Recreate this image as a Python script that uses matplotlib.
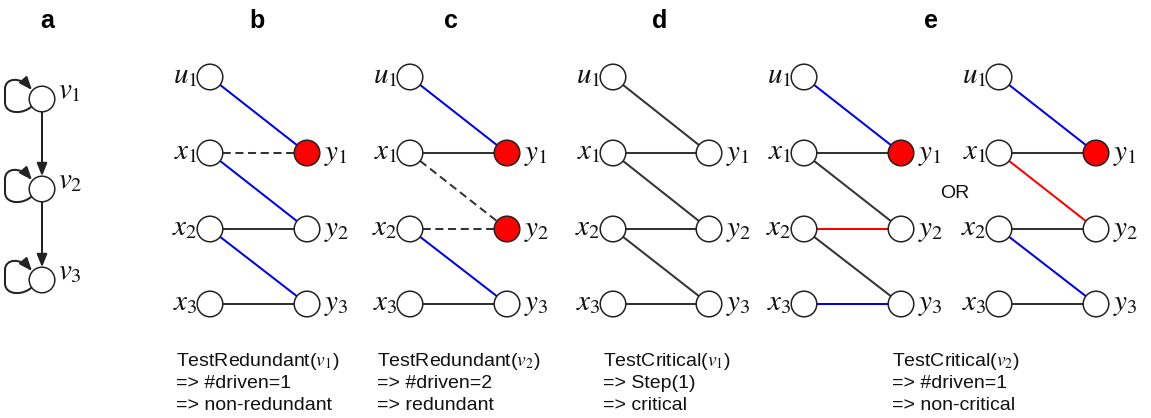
import matplotlib
matplotlib.use('Agg')
import matplotlib.pyplot as plt
from matplotlib.patches import Circle, FancyArrowPatch
from matplotlib.path import Path

plt.rcParams['mathtext.fontset'] = 'stix'

# ---- data -------------------------------------------------------------
panel_names = ['b', 'c', 'd', 'e1', 'e2']

edges_b = [('u1', 'y1', 'blue'), ('x1', 'y1', 'dash'), ('x1', 'y2', 'blue'),
           ('x2', 'y2', 'dark'), ('x2', 'y3', 'blue'), ('x3', 'y3', 'dark')]
edges_c = [('u1', 'y1', 'blue'), ('x1', 'y1', 'dark'), ('x1', 'y2', 'dash'),
           ('x2', 'y2', 'dash'), ('x2', 'y3', 'blue'), ('x3', 'y3', 'dark')]
edges_d = [('u1', 'y1', 'dark'), ('x1', 'y1', 'dark'), ('x1', 'y2', 'dark'),
           ('x2', 'y2', 'dark'), ('x2', 'y3', 'dark'), ('x3', 'y3', 'dark')]
edges_e1 = [('u1', 'y1', 'blue'), ('x1', 'y1', 'dark'), ('x1', 'y2', 'dark'),
            ('x2', 'y2', 'red'), ('x2', 'y3', 'dark'), ('x3', 'y3', 'blue')]
edges_e2 = [('u1', 'y1', 'blue'), ('x1', 'y1', 'dark'), ('x1', 'y2', 'red'),
            ('x2', 'y2', 'dark'), ('x2', 'y3', 'blue'), ('x3', 'y3', 'dark')]

driven_b = ['y1']
driven_c = ['y1', 'y2']
driven_d = []
driven_e1 = ['y1']
driven_e2 = ['y1']

left_nodes = ['u1', 'x1', 'x2', 'x3']
right_nodes = ['y1', 'y2', 'y3']
chain_nodes = ['v1', 'v2', 'v3']

captions_b = [r'TestRedundant($v_1$)', '=> #driven=1', '=> non-redundant']
captions_c = [r'TestRedundant($v_2$)', '=> #driven=2', '=> redundant']
captions_d = [r'TestCritical($v_1$)', '=> Step(1)', '=> critical']
captions_e = [r'TestCritical($v_2$)', '=> #driven=1', '=> non-critical']

panel_letters = ['a', 'b', 'c', 'd', 'e']

# ---- layout (pixels) ----------------------------------------------------
W, H = 1151, 418
R = 12.8
row_y = {'u1': 77, 'x1': 153, 'x2': 229, 'x3': 304,
         'y1': 153, 'y2': 229, 'y3': 304}
panel_x = {'b': (210, 307), 'c': (410, 507), 'd': (613, 709),
           'e1': (804, 901), 'e2': (999, 1096)}
chain_x = 42
chain_y = {'v1': 99, 'v2': 189, 'v3': 280}
letter_x = [47.5, 257, 451, 660, 931]
caption_x = [176, 377, 603, 892]
caption_y = [366, 388, 410]

colors = {'blue': '#0000ee', 'red': '#ff0000', 'dark': '#333333', 'dash': '#333333'}
EDGE_LW = 1.45
NODE_LW = 1.1
OUTLINE = '#222222'
LABEL_SIZE = 21
TEXT_SIZE = 14

fig = plt.figure(figsize=(W / 100, H / 100), dpi=100)
ax = fig.add_axes([0, 0, 1, 1])
ax.set_xlim(0, W)
ax.set_ylim(H, 0)
ax.axis('off')


def node(cx, cy, fill='white'):
    ax.add_patch(Circle((cx, cy), R, facecolor=fill, edgecolor=OUTLINE,
                        lw=NODE_LW, zorder=3))


def bipartite(name, edges, driven):
    xl, xr = panel_x[name]
    pos = {}
    for n in left_nodes:
        pos[n] = (xl, row_y[n])
    for n in right_nodes:
        pos[n] = (xr, row_y[n])
    for a, b, style in edges:
        (x0, y0), (x1, y1) = pos[a], pos[b]
        ls = (0, (4, 2.3)) if style == 'dash' else '-'
        ax.plot([x0, x1], [y0, y1], color=colors[style], lw=EDGE_LW,
                ls=ls, zorder=2, solid_capstyle='butt')
    for n in left_nodes:
        node(*pos[n])
        ax.text(pos[n][0] - R + 0.5, pos[n][1] + 6.5,
                r'$%s_%s$' % (n[0], n[1]), ha='right', va='baseline',
                fontsize=LABEL_SIZE, color='#111111')
    for n in right_nodes:
        node(*pos[n], fill='#ff0000' if n in driven else 'white')
        ax.text(pos[n][0] + R + 4, pos[n][1] + 6.5,
                r'$%s_%s$' % (n[0], n[1]), ha='left', va='baseline',
                fontsize=LABEL_SIZE, color='#111111')


# panel a: chain with self loops
for i, n in enumerate(chain_nodes):
    cx, cy = chain_x, chain_y[n]
    node(cx, cy)
    ax.text(cx + 16, cy - 1, r'$%s_%s$' % (n[0], n[1]), ha='left',
            va='baseline', fontsize=LABEL_SIZE, color='#111111')
    loop = Path([(cx - 10.5, cy + 7.5), (cx - 18, cy + 15), (cx - 36, cy + 16),
                 (cx - 37, cy + 4), (cx - 37, cy - 10),
                 (cx - 37, cy - 21), (cx - 22, cy - 23), (cx - 10, cy - 9)],
                [Path.MOVETO, Path.CURVE4, Path.CURVE4, Path.CURVE4,
                 Path.LINETO, Path.CURVE4, Path.CURVE4, Path.CURVE4])
    ax.add_patch(FancyArrowPatch(path=loop,
                                 arrowstyle='-|>,head_length=0.55,head_width=0.22',
                                 mutation_scale=14, color='#222222',
                                 lw=EDGE_LW, zorder=2))
    if i < len(chain_nodes) - 1:
        ny = chain_y[chain_nodes[i + 1]]
        ax.add_patch(FancyArrowPatch((cx, cy + R), (cx, ny - R),
                                     arrowstyle='-|>,head_length=0.55,head_width=0.22',
                                     mutation_scale=14, color='#222222',
                                     lw=EDGE_LW, shrinkA=0, shrinkB=0, zorder=2))

all_edges = [edges_b, edges_c, edges_d, edges_e1, edges_e2]
all_driven = [driven_b, driven_c, driven_d, driven_e1, driven_e2]
for name, e, d in zip(panel_names, all_edges, all_driven):
    bipartite(name, e, d)

ax.text(955, 194, 'OR', ha='center', va='center', fontsize=TEXT_SIZE,
        family='Liberation Sans', color='#111111')

for lx, letter in zip(letter_x, panel_letters):
    ax.text(lx, 28, letter, ha='center', va='baseline', fontsize=18,
            fontweight='bold', family=['Liberation Sans Narrow', 'Liberation Sans'])

for cx, lines in zip(caption_x, [captions_b, captions_c, captions_d, captions_e]):
    for cy, line in zip(caption_y, lines):
        ax.text(cx, cy, line, ha='left', va='baseline', fontsize=TEXT_SIZE,
                family='Liberation Sans', color='#111111')

fig.savefig('out.png', dpi=100)
